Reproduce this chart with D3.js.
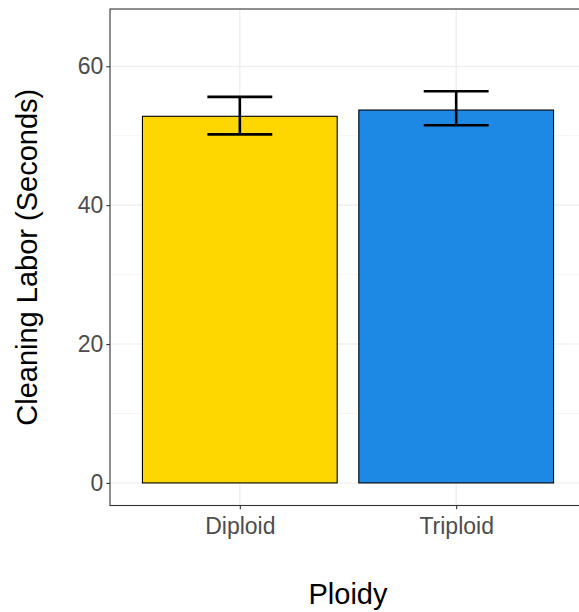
<!DOCTYPE html>
<html>
<head>
<meta charset="utf-8">
<script src="https://cdn.jsdelivr.net/npm/d3@7"></script>
<style>
  html, body { margin: 0; padding: 0; background: #fff; }
  svg { display: block; }
  text { font-family: "Liberation Sans", Arial, sans-serif; }
</style>
</head>
<body>
<svg id="chart" width="579" height="612"></svg>
<script>
// Mean cleaning labor by ploidy, with error bar bounds
const categories = ["Diploid", "Triploid"];
const means = [52.8, 53.7];
const lowers = [50.2, 51.5];
const uppers = [55.6, 56.4];
const barColors = ["#FFD700", "#1E88E5"];
const yTicks = [0, 20, 40, 60];
const yMinorTicks = [10, 30, 50];

const svg = d3.select("#chart");
const panel = { left: 110, top: 9, right: 586, bottom: 505.5 };

// Discrete x axis with ggplot-style 0.6 unit padding on each side
const x = d3.scaleLinear()
  .domain([0.4, categories.length + 0.6])
  .range([panel.left, panel.right]);
const y = d3.scaleLinear()
  .domain([-3.25, 68.25])
  .range([panel.bottom, panel.top]);

const unit = x(2) - x(1);
const barW = 0.9 * unit;
const capW = 0.3 * unit;

const g = svg.append("g");

// grid
g.selectAll("line.minor").data(yMinorTicks).join("line")
  .attr("x1", panel.left).attr("x2", panel.right)
  .attr("y1", d => y(d)).attr("y2", d => y(d))
  .attr("stroke", "#EBEBEB").attr("stroke-width", 0.55);
g.selectAll("line.majorY").data(yTicks).join("line")
  .attr("x1", panel.left).attr("x2", panel.right)
  .attr("y1", d => y(d)).attr("y2", d => y(d))
  .attr("stroke", "#EBEBEB").attr("stroke-width", 1.1);
g.selectAll("line.majorX").data(categories).join("line")
  .attr("x1", (d, i) => x(i + 1)).attr("x2", (d, i) => x(i + 1))
  .attr("y1", panel.top).attr("y2", panel.bottom)
  .attr("stroke", "#EBEBEB").attr("stroke-width", 1.1);

// bars
g.selectAll("rect.bar").data(categories).join("rect")
  .attr("x", (d, i) => x(i + 1) - barW / 2)
  .attr("width", barW)
  .attr("y", (d, i) => y(means[i]))
  .attr("height", (d, i) => y(0) - y(means[i]))
  .attr("fill", (d, i) => barColors[i])
  .attr("stroke", "#000").attr("stroke-width", 1.1);

// error bars
const eb = g.selectAll("g.err").data(categories).join("g");
eb.append("line")
  .attr("x1", (d, i) => x(i + 1)).attr("x2", (d, i) => x(i + 1))
  .attr("y1", (d, i) => y(lowers[i])).attr("y2", (d, i) => y(uppers[i]))
  .attr("stroke", "#000").attr("stroke-width", 2.6);
eb.append("line")
  .attr("x1", (d, i) => x(i + 1) - capW / 2).attr("x2", (d, i) => x(i + 1) + capW / 2)
  .attr("y1", (d, i) => y(uppers[i])).attr("y2", (d, i) => y(uppers[i]))
  .attr("stroke", "#000").attr("stroke-width", 2.6);
eb.append("line")
  .attr("x1", (d, i) => x(i + 1) - capW / 2).attr("x2", (d, i) => x(i + 1) + capW / 2)
  .attr("y1", (d, i) => y(lowers[i])).attr("y2", (d, i) => y(lowers[i]))
  .attr("stroke", "#000").attr("stroke-width", 2.6);

// panel border
g.append("rect")
  .attr("x", panel.left).attr("y", panel.top)
  .attr("width", panel.right - panel.left).attr("height", panel.bottom - panel.top)
  .attr("fill", "none").attr("stroke", "#333").attr("stroke-width", 1.1);

// axes
const yAxis = d3.axisLeft(y).tickValues(yTicks).tickSize(3.7).tickPadding(3);
const yG = svg.append("g").attr("transform", `translate(${panel.left},0)`).call(yAxis);
yG.select(".domain").remove();
yG.selectAll(".tick line").attr("stroke", "#333").attr("stroke-width", 1.1);
yG.selectAll(".tick text").attr("fill", "#4D4D4D").attr("font-size", 23)
  .attr("font-family", "Liberation Sans, Arial, sans-serif");

const xAxis = d3.axisBottom(x).tickValues(categories.map((d, i) => i + 1))
  .tickFormat((d, i) => categories[i]).tickSize(3.7).tickPadding(8);
const xG = svg.append("g").attr("transform", `translate(0,${panel.bottom})`).call(xAxis);
xG.select(".domain").remove();
xG.selectAll(".tick line").attr("stroke", "#333").attr("stroke-width", 1.1);
xG.selectAll(".tick text").attr("fill", "#4D4D4D").attr("font-size", 23)
  .attr("font-family", "Liberation Sans, Arial, sans-serif");

// titles
svg.append("text")
  .attr("x", (panel.left + panel.right) / 2).attr("y", 604)
  .attr("text-anchor", "middle").attr("font-size", 29).attr("fill", "#000")
  .text("Ploidy");
svg.append("text")
  .attr("transform", `translate(37,${(panel.top + panel.bottom) / 2}) rotate(-90)`)
  .attr("text-anchor", "middle").attr("font-size", 29).attr("fill", "#000")
  .text("Cleaning Labor (Seconds)");
</script>
</body>
</html>
